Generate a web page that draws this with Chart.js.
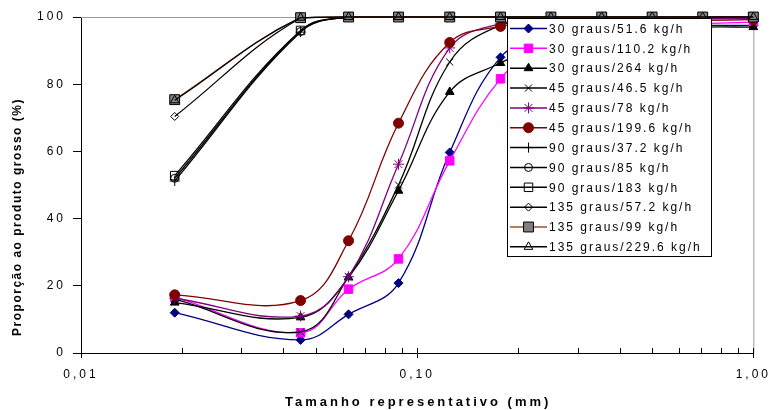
<!DOCTYPE html>
<html>
<head>
<meta charset="utf-8">
<script src="https://cdn.jsdelivr.net/npm/chart.js@4/dist/chart.umd.min.js"></script>
<style>
  html, body { margin: 0; padding: 0; background: #fff; }
  #box { width: 774px; height: 410px; }
</style>
</head>
<body>
<div id="box"><canvas id="grafico"></canvas></div>
<script>
// tamanhos representativos (mm)
const tamanhos = [0.019, 0.045, 0.0625, 0.088, 0.125, 0.177, 0.25, 0.354, 0.5, 0.707, 1.0];

// proporção ao produto grosso (%) por ensaio
const s30_516  = [12.0, 3.9, 11.5, 20.8, 59.7, 88.0, 95.0, 97.0, 97.5, 97.5, 97.5];
const s30_1102 = [16.6, 6.0, 19.0, 28.0, 57.2, 81.6, 93.0, 96.0, 97.5, 98.0, 98.5];
const s30_264  = [15.0, 10.6, 22.5, 48.3, 77.7, 86.3, 93.0, 95.5, 96.5, 97.0, 97.0];
const s45_465  = [16.0, 6.3, 22.7, 50.0, 86.6, 97.5, 99.0, 99.5, 99.5, 99.5, 99.5];
const s45_78   = [16.3, 11.0, 22.7, 56.2, 90.8, 98.0, 99.0, 99.5, 99.5, 99.5, 99.5];
const s45_1996 = [17.3, 15.6, 33.4, 68.4, 92.4, 97.2, 98.5, 99.0, 99.0, 99.0, 99.2];
const s90_372  = [51.2, 95.5, 100, 100, 100, 100, 100, 100, 100, 100, 100];
const s90_85   = [52.0, 95.7, 100, 100, 100, 100, 100, 100, 100, 100, 100];
const s90_183  = [52.8, 96.0, 100, 100, 100, 100, 100, 100, 100, 100, 100];
const s135_572 = [70.4, 99.7, 100, 100, 100, 100, 100, 100, 100, 100, 100];
const s135_99  = [75.4, 99.8, 100, 100, 100, 100, 100, 100, 100, 100, 100];
const s135_2296 = [75.2, 99.8, 100, 100, 100, 100, 100, 100, 100, 100, 100];

const nomes = ['30 graus/51.6 kg/h', '30 graus/110.2 kg/h', '30 graus/264 kg/h',
   '45 graus/46.5 kg/h', '45 graus/78 kg/h', '45 graus/199.6 kg/h',
   '90 graus/37.2 kg/h', '90 graus/85 kg/h', '90 graus/183 kg/h',
   '135 graus/57.2 kg/h', '135 graus/99 kg/h', '135 graus/229.6 kg/h'];

// marcas do eixo x (escala log) e rótulos
const xTicks = [0.01, 0.02, 0.03, 0.04, 0.05, 0.06, 0.07, 0.08, 0.09,
   0.1, 0.2, 0.3, 0.4, 0.5, 0.6, 0.7, 0.8, 0.9, 1];
const xTickLabels = { '0.01': '0,01', '0.1': '0,10', '1': '1,00' };
const yTicks = [0, 20, 40, 60, 80, 100];

const FONTE = "'Liberation Sans', Arial, sans-serif";
const vazio = 'rgba(0,0,0,0)';

// estilo de cada série: [cor da linha, marcador, preenchimento, borda, raio]
const estilos = [
   ['#000080', 'rectRot', '#000080', '#000080', 4.5],
   ['#FF00FF', 'rect', '#FF00FF', '#FF00FF', 6],
   ['#000000', 'triangle', '#000000', '#000000', 5],
   ['#000000', 'crossRot', vazio, '#000000', 5],
   ['#800080', 'star', vazio, '#800080', 5.5],
   ['#800000', 'circle', '#800000', '#800000', 5],
   ['#000000', 'cross', vazio, '#000000', 5],
   ['#000000', 'circle', vazio, '#000000', 4],
   ['#000000', 'rect', vazio, '#000000', 6],
   ['#000000', 'rectRot', vazio, '#000000', 4],
   ['#A0522D', 'rect', '#808080', '#000000', 7],
   ['#000000', 'triangle', vazio, '#000000', 5]
];

const series = [s30_516, s30_1102, s30_264, s45_465, s45_78, s45_1996,
   s90_372, s90_85, s90_183, s135_572, s135_99, s135_2296];

const datasets = series.map((valores, i) => ({
   label: nomes[i],
   data: valores.map((v, k) => ({ x: tamanhos[k], y: v })),
   borderColor: estilos[i][0],
   borderWidth: 1.3,
   pointStyle: estilos[i][1],
   pointBackgroundColor: estilos[i][2],
   pointBorderColor: estilos[i][3],
   pointBorderWidth: 1,
   pointRadius: estilos[i][4],
   tension: 0.4,
   fill: false,
   clip: false,
   order: series.length - i
}));

function desenhaMarca(ctx, estilo, x, y) {
   ctx.fillStyle = estilo[2];
   ctx.strokeStyle = estilo[3];
   ctx.lineWidth = 1;
   Chart.helpers.drawPoint(ctx, { pointStyle: estilo[1], radius: estilo[4], rotation: 0, borderWidth: 1 }, x, y);
}

//-> moldura, legenda e títulos
const moldura = {
   id: 'moldura',
   beforeDraw(chart) {
      chart.ctx.letterSpacing = '3px';
   },
   beforeDatasetsDraw(chart) {
      const ctx = chart.ctx, a = chart.chartArea;
      ctx.save();
      ctx.strokeStyle = '#9a9a9a';
      ctx.lineWidth = 1;
      ctx.beginPath();
      ctx.moveTo(a.left, a.top + 0.5);
      ctx.lineTo(a.right + 0.5, a.top + 0.5);
      ctx.lineTo(a.right + 0.5, a.bottom);
      ctx.stroke();
      // marcas internas do eixo x
      const sx = chart.scales.x;
      ctx.strokeStyle = '#000';
      ctx.beginPath();
      xTicks.forEach(v => {
         const px = Math.round(sx.getPixelForValue(v)) + 0.5;
         ctx.moveTo(px, a.bottom);
         ctx.lineTo(px, a.bottom - 5);
      });
      ctx.stroke();
      ctx.restore();
   },
   afterDatasetsDraw(chart) {
      const ctx = chart.ctx;
      const bx = 507.5, by = 18.5, bw = 204, bh = 238;
      ctx.save();
      ctx.fillStyle = '#fff';
      ctx.fillRect(bx, by, bw, bh);
      ctx.strokeStyle = '#000';
      ctx.lineWidth = 1;
      ctx.strokeRect(bx, by, bw, bh);
      ctx.font = '12px ' + FONTE;
      ctx.letterSpacing = '2px';
      ctx.textBaseline = 'alphabetic';
      ctx.textAlign = 'left';
      nomes.forEach((nome, i) => {
         const y = 28.5 + i * 19.85;
         ctx.strokeStyle = estilos[i][0];
         ctx.lineWidth = 1.5;
         ctx.beginPath();
         ctx.moveTo(510, y);
         ctx.lineTo(547, y);
         ctx.stroke();
         desenhaMarca(ctx, estilos[i], 528.5, y);
         ctx.fillStyle = '#000';
         ctx.fillText(nome, 549, y + 4.2);
      });
      ctx.restore();
   },
   afterDraw(chart) {
      const ctx = chart.ctx, a = chart.chartArea;
      ctx.save();
      ctx.fillStyle = '#000';
      ctx.textAlign = 'center';
      ctx.textBaseline = 'alphabetic';
      ctx.font = 'bold 13px ' + FONTE;
      ctx.letterSpacing = '3px';
      ctx.fillText('Tamanho representativo (mm)', (a.left + a.right) / 2 + 1, 406);
      ctx.translate(21, 217);
      ctx.rotate(-Math.PI / 2);
      ctx.font = 'bold 12px ' + FONTE;
      ctx.letterSpacing = '1.5px';
      ctx.fillText('Proporção ao produto grosso (%)', 0, 0);
      ctx.restore();
   }
};

new Chart(document.getElementById('grafico').getContext('2d'), {
   type: 'line',
   data: { datasets: datasets },
   options: {
      responsive: true,
      maintainAspectRatio: false,
      animation: false,
      layout: { padding: { top: 17, right: 17, left: 0, bottom: 0 } },
      plugins: { legend: { display: false }, tooltip: { enabled: false } },
      scales: {
         x: {
            type: 'logarithmic',
            min: 0.01,
            max: 1,
            afterBuildTicks: (scale) => {
               scale.ticks = xTicks.map(v => ({ value: v, major: xTickLabels[String(v)] !== undefined }));
            },
            afterFit: (scale) => { scale.height = 57; },
            border: { color: '#000', width: 1 },
            grid: {
               drawOnChartArea: false,
               tickLength: 5,
               tickColor: (c) => (c.tick && c.tick.major ? '#000' : vazio)
            },
            ticks: {
               autoSkip: false,
               maxRotation: 0,
               padding: 9,
               color: '#000',
               font: { family: FONTE, size: 12 },
               callback: (v) => xTickLabels[String(v)] || ''
            }
         },
         y: {
            min: 0,
            max: 100,
            afterBuildTicks: (scale) => { scale.ticks = yTicks.map(v => ({ value: v })); },
            afterFit: (scale) => { scale.width = 81; },
            border: { color: '#000', width: 1 },
            grid: { drawOnChartArea: false, tickLength: 8, tickColor: '#000' },
            ticks: {
               padding: 7,
               color: '#000',
               font: { family: FONTE, size: 12 }
            }
         }
      }
   },
   plugins: [moldura]
});
</script>
</body>
</html>
